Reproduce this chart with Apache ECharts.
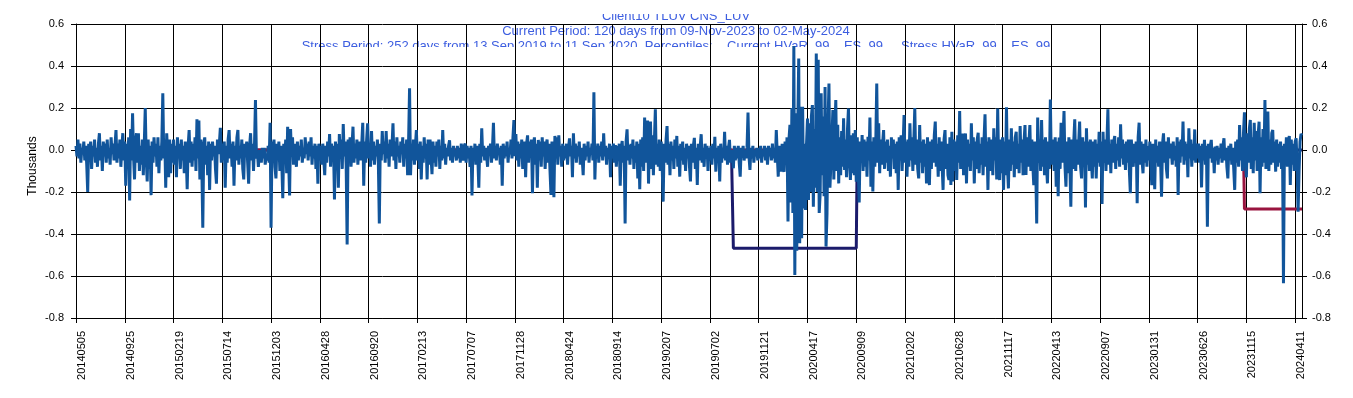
<!DOCTYPE html>
<html>
<head>
<meta charset="utf-8">
<style>
  html, body { margin: 0; padding: 0; background: #fff; }
  #chart { width: 1353px; height: 398px; }
</style>
<script src="https://cdn.jsdelivr.net/npm/echarts@6.0.0/dist/echarts.min.js"></script>
</head>
<body>
<div id="chart"></div>
<script>
const titleLines = [
  'Client10 TLUV CNS_LUV',
  'Current Period: 120 days from 09-Nov-2023 to 02-May-2024',
  'Stress Period: 252 days from 13 Sep 2019 to 11 Sep 2020, Percentiles:    Current HVaR  99 ,  ES  99 ,   Stress HVaR  99 ,  ES  99'
];

// one label every 50 points (every other business day is kept)
const tickStep = 50;
const tickLabels = [
  '20140505', '20140925', '20150219', '20150714', '20151203', '20160428', '20160920',
  '20170213', '20170707', '20171128', '20180424', '20180914', '20190207', '20190702',
  '20191121', '20200417', '20200909', '20210202', '20210628', '20211117', '20220413',
  '20220907', '20230131', '20230626', '20231115', '20240411'
];

// daily P&L, thousands
const pnl = [
  // 20140505
  0.02,-0.03,0.05,-0.04,0.03,-0.06,0.01,-0.02,0.04,-0.05,
  0.02,-0.07,-0.20,0.03,-0.04,0.04,-0.09,0.02,-0.03,0.05,
  -0.06,0.01,-0.08,0.03,0.08,-0.05,0.02,-0.10,0.04,-0.03,
  0.03,-0.06,0.05,-0.04,0.00,-0.07,0.06,-0.02,0.03,-0.05,
  0.02,0.095,-0.06,0.03,-0.04,0.05,-0.08,0.01,0.08,-0.05,
  // 20140925
  0.04,-0.17,0.03,-0.08,0.06,-0.24,0.10,-0.05,0.175,-0.03,
  -0.14,0.04,0.08,-0.06,0.08,-0.10,0.02,-0.07,0.05,-0.12,
  0.03,0.20,-0.04,-0.15,0.05,-0.09,0.02,-0.215,0.04,-0.06,
  0.06,-0.03,0.03,-0.08,0.06,-0.11,0.02,-0.05,0.04,0.27,
  -0.04,0.05,-0.18,0.08,-0.02,-0.13,0.05,-0.11,0.03,-0.06,
  // 20150219
  0.05,-0.07,0.02,-0.13,0.06,-0.04,0.03,-0.09,0.05,-0.05,
  0.02,-0.11,0.04,-0.03,-0.187,0.02,0.095,-0.06,0.04,-0.08,
  0.03,-0.05,0.06,-0.10,0.146,-0.04,0.14,-0.14,0.05,-0.08,
  -0.37,0.03,0.06,-0.07,0.02,-0.12,0.04,-0.19,0.03,-0.05,
  0.04,-0.03,0.02,-0.09,-0.16,0.05,-0.02,0.03,0.106,-0.06,
  // 20150714
  0.03,-0.05,0.04,-0.18,0.02,-0.06,0.05,0.095,-0.04,0.03,
  -0.08,0.04,-0.17,0.02,-0.05,0.06,0.095,-0.07,0.02,-0.04,
  0.05,-0.09,-0.14,0.03,-0.03,0.04,-0.06,-0.16,0.02,0.08,
  -0.05,0.03,-0.10,0.02,0.238,-0.04,-0.01,-0.08,0.00,-0.03,
  -0.06,0.01,-0.04,0.01,-0.07,-0.02,-0.05,0.02,-0.06,0.13,
  // 20151203
  -0.37,0.04,-0.03,0.05,-0.08,-0.135,0.03,-0.05,0.04,-0.10,
  0.02,-0.06,-0.23,0.03,-0.04,0.05,-0.11,0.11,-0.05,-0.217,
  0.10,-0.03,0.06,-0.07,0.03,-0.02,-0.08,0.04,-0.05,0.02,
  -0.03,0.05,-0.06,0.01,-0.04,0.06,-0.02,0.03,-0.05,0.04,
  -0.03,0.06,-0.07,0.02,-0.04,0.03,-0.09,0.02,-0.16,0.03,
  // 20160428
  -0.05,0.02,-0.07,0.03,-0.04,-0.12,0.02,-0.06,0.04,-0.03,
  0.076,-0.08,0.03,-0.05,0.02,-0.235,0.04,-0.06,0.03,-0.18,
  0.076,-0.04,0.05,-0.09,0.124,-0.03,0.04,-0.07,-0.45,0.05,
  -0.04,0.06,-0.08,0.02,0.111,-0.06,0.03,-0.04,0.05,-0.07,
  0.02,0.04,-0.05,0.03,0.13,-0.17,0.04,-0.06,0.05,0.127,
  // 20160920
  -0.04,0.03,-0.08,0.09,-0.05,0.04,-0.07,0.02,-0.03,0.05,
  -0.06,-0.35,0.03,-0.05,0.09,-0.02,0.04,-0.06,0.09,-0.04,
  0.03,-0.08,0.05,-0.03,0.02,0.127,-0.05,0.04,-0.09,0.06,
  -0.03,0.02,-0.06,0.04,-0.02,0.06,-0.08,0.03,-0.04,0.05,
  -0.12,0.04,0.294,-0.12,0.03,-0.05,0.05,-0.07,0.02,0.095,
  // 20170213
  -0.05,0.03,-0.09,0.04,-0.14,0.02,-0.06,0.06,-0.04,0.03,
  -0.14,0.05,-0.07,0.05,-0.03,-0.115,0.04,-0.06,0.02,-0.08,
  0.04,-0.03,0.05,-0.09,0.02,-0.05,0.095,-0.04,0.03,-0.07,
  0.01,-0.03,0.02,0.046,-0.05,0.01,-0.06,0.02,-0.03,0.00,
  -0.05,0.02,-0.04,0.01,-0.06,0.03,-0.02,-0.05,0.02,0.03,
  // 20170707
  -0.06,0.02,-0.04,0.01,-0.08,0.02,-0.217,0.01,-0.05,0.03,
  -0.07,0.02,-0.04,-0.18,0.03,-0.06,0.103,-0.03,0.02,-0.05,
  0.01,-0.03,-0.08,0.02,-0.02,0.03,-0.06,0.01,0.13,-0.04,
  0.02,-0.05,0.03,-0.02,0.01,-0.07,0.02,-0.17,0.03,-0.04,
  0.02,-0.03,0.04,-0.06,0.01,-0.02,0.05,-0.04,0.06,0.143,
  // 20171128
  -0.03,0.076,-0.05,0.04,-0.08,0.03,-0.04,0.05,-0.09,0.02,
  0.04,-0.13,0.03,0.07,-0.06,0.04,-0.03,0.05,-0.206,0.02,
  0.06,-0.07,0.03,-0.18,0.048,-0.05,0.04,-0.08,0.06,-0.03,
  0.04,-0.09,0.02,0.05,-0.06,0.03,-0.10,-0.214,0.04,-0.05,
  -0.225,0.067,-0.04,0.06,-0.07,0.07,-0.03,0.02,-0.08,0.03,
  // 20180424
  -0.05,0.02,-0.04,0.03,-0.07,0.01,0.055,-0.03,0.02,-0.13,
  0.08,-0.04,0.03,-0.06,0.02,-0.03,0.04,-0.07,0.01,-0.04,
  -0.12,0.03,-0.05,0.02,-0.03,0.04,-0.06,0.01,-0.02,0.03,
  -0.05,0.275,-0.14,0.02,-0.04,0.03,-0.06,0.02,-0.03,0.04,
  -0.05,0.08,-0.03,0.02,-0.07,0.01,-0.04,0.03,-0.13,0.02,
  // 20180914
  -0.04,0.03,-0.06,0.024,-0.08,0.02,-0.05,0.03,-0.17,0.01,
  0.043,-0.06,0.02,-0.35,0.04,0.098,-0.05,0.024,-0.07,0.03,
  -0.04,0.05,-0.09,0.02,-0.06,0.04,-0.135,0.03,-0.187,0.05,
  -0.08,0.06,-0.10,0.155,-0.06,0.08,0.14,-0.16,0.05,0.135,
  -0.09,0.07,-0.12,0.04,0.194,-0.07,0.03,-0.08,0.05,-0.10,
  // 20190207
  0.04,-0.08,-0.246,0.03,-0.06,0.05,0.114,-0.07,0.03,-0.12,
  0.04,-0.05,0.02,-0.09,0.05,-0.04,0.067,-0.08,0.02,-0.127,
  0.03,-0.05,0.04,-0.07,0.01,-0.10,0.03,-0.04,0.02,-0.08,
  -0.15,0.03,-0.06,0.02,0.058,-0.09,0.01,-0.167,0.03,-0.05,
  0.02,0.075,-0.06,0.01,-0.08,0.03,-0.04,0.02,-0.10,0.01,
  // 20190702
  -0.05,0.02,-0.07,0.03,-0.04,0.063,-0.103,0.01,-0.05,0.02,
  -0.15,0.03,-0.06,0.01,-0.04,0.087,-0.05,0.02,-0.07,0.01,
  0.048,-0.06,0.00,-0.03,-0.087,0.02,-0.05,0.01,-0.04,0.02,
  -0.06,-0.127,0.01,-0.03,0.02,-0.05,0.00,-0.04,0.01,0.178,
  -0.03,-0.095,0.01,-0.04,0.02,-0.06,0.00,-0.03,0.01,-0.05,
  // 20191121
  0.01,-0.04,0.02,-0.06,0.00,-0.03,0.02,-0.05,0.01,-0.07,
  0.02,-0.03,0.01,-0.05,0.03,-0.04,0.00,-0.06,0.095,-0.02,
  -0.127,0.02,-0.05,-0.103,0.03,-0.09,-0.103,0.04,-0.07,0.06,
  -0.34,0.05,0.12,-0.25,0.20,-0.30,0.495,-0.595,0.175,-0.48,
  0.10,0.436,-0.444,0.206,-0.42,0.206,-0.278,0.03,-0.286,0.03,
  // 20200417
  0.15,-0.238,0.127,-0.20,0.16,0.214,-0.27,0.10,-0.18,0.46,
  -0.20,0.43,-0.30,-0.206,0.27,-0.12,0.159,-0.22,0.30,-0.46,
  -0.302,0.12,0.317,-0.18,-0.175,0.05,0.19,-0.14,0.08,0.238,
  -0.10,0.12,-0.159,0.06,-0.12,0.09,-0.08,0.151,-0.095,0.05,
  -0.13,0.10,0.198,-0.06,-0.143,0.07,-0.11,0.08,-0.12,0.095,
  // 20200909
  -0.151,0.06,-0.09,-0.25,0.04,-0.06,0.071,-0.10,0.05,-0.08,
  0.04,-0.127,0.063,-0.05,0.155,-0.175,0.04,-0.198,0.06,-0.08,
  0.03,0.317,-0.06,0.127,-0.111,0.05,-0.07,0.03,0.095,-0.09,
  0.04,-0.06,0.05,-0.10,0.02,-0.127,0.06,-0.04,0.05,-0.09,
  0.03,-0.11,0.04,-0.19,0.06,-0.05,0.07,-0.10,0.02,0.167,
  // 20210202
  -0.06,0.04,-0.127,0.05,-0.08,0.127,-0.05,0.06,-0.10,0.04,
  0.20,-0.07,0.05,-0.09,-0.135,0.119,-0.06,0.04,-0.11,0.05,
  -0.08,0.03,-0.159,0.06,-0.07,-0.167,0.04,-0.09,0.05,-0.06,
  0.07,0.135,-0.08,0.03,-0.127,0.06,-0.10,0.04,-0.07,-0.19,
  0.05,0.095,-0.09,0.03,-0.12,-0.143,0.06,-0.167,0.087,-0.15,
  // 20210628
  0.05,-0.10,0.04,-0.143,0.07,-0.06,0.186,-0.09,0.03,0.079,
  -0.12,0.04,0.079,-0.159,0.05,-0.08,0.03,-0.10,0.127,-0.05,
  0.06,-0.159,0.04,-0.09,0.05,0.082,-0.11,0.03,-0.07,0.06,
  -0.12,0.05,0.17,-0.08,0.04,-0.19,0.06,-0.10,0.03,0.05,
  -0.12,0.103,-0.05,0.06,-0.14,0.198,-0.07,-0.143,0.05,-0.11,
  // 20211117
  0.06,-0.19,0.04,-0.12,0.203,-0.08,-0.183,0.05,-0.10,0.103,
  -0.07,0.04,-0.13,0.06,0.087,-0.09,0.03,-0.11,0.114,-0.06,
  0.05,-0.12,0.04,0.119,-0.119,0.06,-0.08,0.03,0.119,-0.10,
  0.05,-0.07,-0.167,0.04,-0.09,-0.35,0.155,-0.06,0.05,-0.10,
  0.143,-0.08,0.05,-0.12,0.06,-0.07,-0.159,0.04,-0.09,0.24,
  // 20220413
  -0.07,0.05,0.048,-0.10,0.06,-0.175,0.04,-0.22,0.06,-0.09,
  0.13,-0.06,0.05,0.186,-0.08,-0.175,0.04,-0.11,0.06,-0.07,
  -0.27,0.05,-0.09,0.04,0.146,-0.10,0.05,-0.07,0.03,0.135,
  -0.08,-0.135,0.06,-0.05,0.04,-0.274,0.103,-0.07,0.04,-0.10,
  0.05,0.048,-0.135,0.04,-0.08,0.05,-0.135,0.03,-0.06,0.087,
  // 20220907
  -0.08,0.04,-0.257,0.087,-0.06,0.05,-0.10,0.04,0.194,-0.07,
  0.03,-0.111,0.05,-0.06,0.04,0.067,-0.09,0.03,-0.05,0.06,
  -0.08,0.122,-0.04,0.05,-0.07,0.03,-0.095,0.04,-0.06,0.05,
  -0.10,-0.206,0.05,0.05,-0.08,0.03,-0.06,0.04,-0.254,0.06,
  0.13,-0.07,0.04,-0.05,-0.111,0.03,-0.06,0.05,-0.08,0.019,
  // 20230131
  -0.05,0.04,-0.07,-0.167,0.03,-0.04,-0.187,0.05,-0.06,0.02,
  -0.08,0.04,-0.05,-0.222,0.03,0.079,-0.06,0.04,-0.09,-0.135,
  0.06,-0.04,0.03,0.00,-0.07,0.04,-0.05,0.02,-0.08,0.06,
  -0.214,0.04,-0.06,0.05,-0.03,0.135,-0.07,0.04,-0.05,0.03,
  -0.13,0.103,-0.04,0.05,-0.08,0.03,-0.05,0.098,-0.06,0.03,
  // 20230626
  -0.04,0.03,-0.06,0.02,-0.178,0.03,-0.05,0.048,-0.07,0.02,
  -0.365,0.03,-0.04,0.02,0.048,-0.06,0.01,-0.111,0.016,-0.05,
  0.02,-0.07,0.01,-0.04,0.03,-0.06,0.02,0.056,-0.05,0.01,
  -0.08,-0.135,0.02,-0.05,0.03,-0.07,0.01,-0.09,-0.19,0.04,
  -0.06,0.05,-0.08,0.119,-0.05,0.06,-0.10,0.08,0.18,-0.07,
  // 20231115
  -0.13,0.08,-0.06,0.10,0.143,-0.09,0.06,-0.11,0.13,-0.05,
  0.09,-0.10,0.07,0.135,-0.206,0.06,-0.08,0.10,-0.06,0.238,
  -0.09,0.07,0.183,-0.10,0.05,-0.07,0.08,0.095,-0.06,0.04,
  -0.103,0.05,-0.08,0.03,-0.06,0.04,-0.09,0.02,-0.635,0.03,
  -0.05,0.06,-0.08,0.04,0.067,-0.167,0.05,-0.07,0.03,-0.10,
  // 20240411
  0.04,0.056,-0.08,-0.294,-0.10,0.04,0.076,0.07
];

// current HVaR 99 over the last 120 days, stress HVaR 99 over the stress window
const currentHvar = -0.281;
const currentStart = 1198;
const stressHvar = -0.468;
const stressStart = 674;
const stressEnd = 800;

const categories = pnl.map((_, i) => (i % tickStep === 0 ? tickLabels[i / tickStep] : '#' + i));
const currentLine = pnl.map((_, i) => (i >= currentStart ? currentHvar : 0));
const stressLine = pnl.map((_, i) => (i >= stressStart && i <= stressEnd ? stressHvar : 0));

const onTick = (i) => i % tickStep === 0;
const font = 'Liberation Sans';
const titleColor = '#3d5ee0';
const titleY = [16, 31, 46];

const chart = echarts.init(document.getElementById('chart'));

chart.setOption({
  animation: false,
  backgroundColor: '#fff',
  grid: { left: 76, right: 51, top: 24, bottom: 80 },
  graphic: [
    ...titleLines.map((t, k) => ({
      type: 'text', x: 676, y: titleY[k], z: 0, silent: true,
      style: {
        text: t, fill: titleColor, font: '13px "' + font + '"',
        align: 'center', verticalAlign: 'middle',
        textAlign: 'center', textVerticalAlign: 'middle'
      }
    })),
    // the title box is shorter than its text
    { type: 'rect', z: 1, silent: true, shape: { x: 0, y: 0, width: 1353, height: 14 }, style: { fill: '#fff' } },
    { type: 'rect', z: 1, silent: true, shape: { x: 280, y: 47, width: 800, height: 10 }, style: { fill: '#fff' } }
  ],
  xAxis: {
    type: 'category',
    data: categories,
    boundaryGap: false,
    z: 2,
    axisLine: { onZero: false, lineStyle: { color: '#000', width: 1 } },
    axisTick: { interval: onTick, length: 5, lineStyle: { color: '#000' } },
    axisLabel: {
      interval: onTick, rotate: 90, margin: 13, fontSize: 11, color: '#000', fontFamily: font,
      verticalAlign: 'top', lineHeight: 12
    },
    splitLine: { show: true, interval: onTick, lineStyle: { color: '#000', width: 1 } }
  },
  yAxis: [
    {
      type: 'value', position: 'left', min: -0.8, max: 0.6, interval: 0.2, z: 2,
      name: 'Thousands', nameLocation: 'middle', nameRotate: 90, nameGap: 37, nameMoveOverlap: false,
      nameTextStyle: { fontSize: 12, color: '#000', fontFamily: font, padding: [0, 0, 0, 10] },
      axisLine: { show: true, lineStyle: { color: '#000', width: 1 } },
      axisTick: { show: true, length: 5, lineStyle: { color: '#000' } },
      axisLabel: { formatter: (v) => v.toFixed(1), margin: 12, fontSize: 11, color: '#000', fontFamily: font },
      splitLine: { show: true, lineStyle: { color: '#000', width: 1 } }
    },
    {
      type: 'value', position: 'right', min: -0.8, max: 0.6, interval: 0.2, z: 2,
      axisLine: { show: true, lineStyle: { color: '#000', width: 1 } },
      axisTick: { show: true, length: 5, lineStyle: { color: '#000' } },
      axisLabel: { formatter: (v) => v.toFixed(1), margin: 10, fontSize: 11, color: '#000', fontFamily: font },
      splitLine: { show: false }
    }
  ],
  series: [
    {
      name: 'Stress HVaR', type: 'line', data: stressLine, z: 3, silent: true,
      symbol: 'none', lineStyle: { color: '#1b1b6b', width: 3 }
    },
    {
      name: 'Current HVaR', type: 'line', data: currentLine, z: 4, silent: true,
      symbol: 'none', lineStyle: { color: '#99143f', width: 3 }
    },
    {
      name: 'P&L', type: 'line', data: pnl, z: 5, silent: true,
      symbol: 'none', lineStyle: { color: '#11559b', width: 3 }
    }
  ]
});
</script>
</body>
</html>
